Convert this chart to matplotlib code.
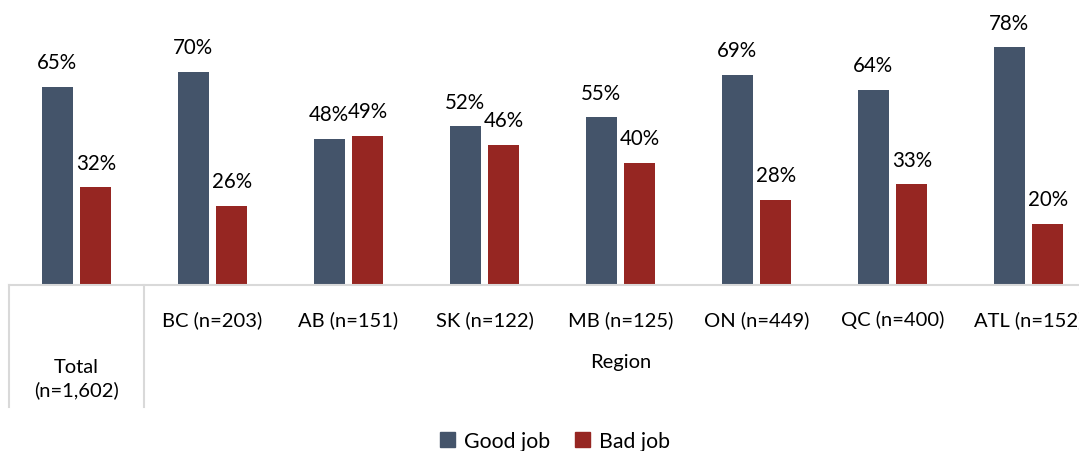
import matplotlib
matplotlib.use("Agg")
import matplotlib.pyplot as plt
from matplotlib.transforms import blended_transform_factory
from matplotlib.patches import Patch
import numpy as np

categories = ["Total\n(n=1,602)", "BC (n=203)", "AB (n=151)", "SK (n=122)",
              "MB (n=125)", "ON (n=449)", "QC (n=400)", "ATL (n=152)"]
good_job = [65, 70, 48, 52, 55, 69, 64, 78]
bad_job = [32, 26, 49, 46, 40, 28, 33, 20]
series_names = ["Good job", "Bad job"]
group_label = "Region"

plt.rcParams['font.family'] = ['Lato', 'DejaVu Sans']
GOOD = "#44546A"
BAD = "#962622"
GRID = "#D9D9D9"
FS = 14.8
FS_CAT = 14.5

W, H = 1079, 452
fig = plt.figure(figsize=(W / 100, H / 100), dpi=100)
base_px = 286
ax = fig.add_axes([8.5 / W, (H - base_px) / H, 1088 / W, base_px / H])

x = np.arange(len(categories))
bw = 0.228
off = 0.142
b1 = ax.bar(x - off, good_job, bw, color=GOOD)
b2 = ax.bar(x + off, bad_job, bw, color=BAD)
for bars, vals in ((b1, good_job), (b2, bad_job)):
    for r, v in zip(bars, vals):
        ax.annotate(f"{v}%", (r.get_x() + r.get_width() / 2, v),
                    xytext=(0, 10.5), textcoords="offset points",
                    ha="center", va="bottom", fontsize=FS, color="#000000")

ax.set_xlim(-0.5, len(categories) - 0.5)
ax.set_ylim(0, base_px / 3.05)
for s in ("top", "right", "left"):
    ax.spines[s].set_visible(False)
ax.spines["bottom"].set_color(GRID)
ax.spines["bottom"].set_linewidth(1.5)
ax.set_xticks([])
ax.set_yticks([])

tr = blended_transform_factory(ax.transData, ax.transAxes)
px = 1.0 / base_px
for xv in (-0.5, 0.5):
    ax.plot([xv, xv], [0, -(408 - base_px) * px], color=GRID, lw=1.5,
            transform=tr, clip_on=False)

for i, lab in enumerate(categories):
    if i == 0:
        ax.text(i, -(379 - base_px) * px, lab, transform=tr, ha="center",
                va="center", fontsize=FS_CAT, linespacing=1.3)
    else:
        ax.text(i, -(320 - base_px) * px, lab, transform=tr, ha="center",
                va="center", fontsize=FS_CAT)
ax.text((0.5 + len(categories) - 0.5) / 2, -(363 - base_px) * px, group_label,
        transform=tr, ha="center", va="center", fontsize=FS_CAT)

handles = [Patch(color=GOOD), Patch(color=BAD)]
fig.legend(handles, series_names, loc="center", bbox_to_anchor=(555 / W, 1 - 442 / H),
           ncol=2, frameon=False, fontsize=15.3, handlelength=0.7, handleheight=0.7,
           handletextpad=0.4, columnspacing=1.2, borderpad=0)

fig.savefig("out.png", dpi=100)
